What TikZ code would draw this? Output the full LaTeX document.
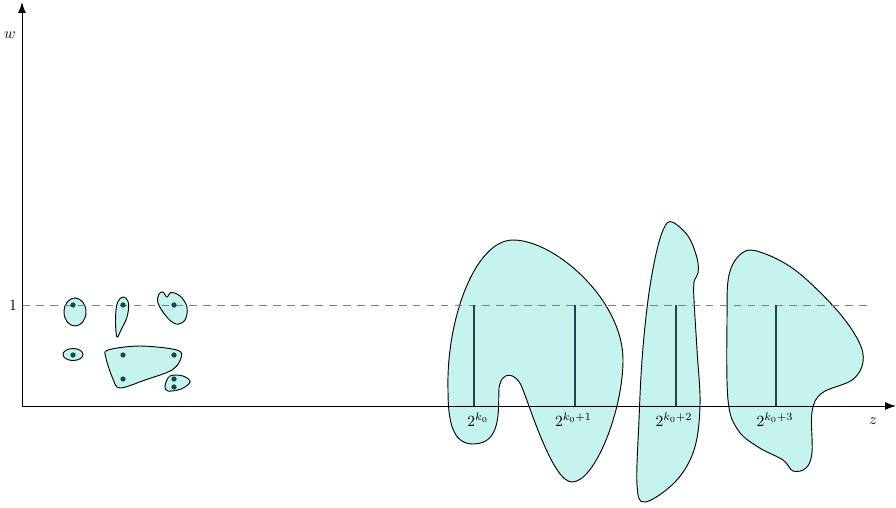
\documentclass[tikz,border=0pt]{standalone}
\usetikzlibrary{arrows.meta}
\definecolor{blobfill}{RGB}{197,244,239}
\definecolor{darkteal}{RGB}{24,72,72}
\tikzset{
  blob/.style={draw=black, line width=0.6pt, fill=blobfill},
  axis/.style={line width=0.6pt, -{Latex[length=7pt,width=5pt]}},
  guide/.style={gray, dashed, dash pattern=on 5pt off 4pt, line width=0.6pt},
  stem/.style={darkteal, line width=0.9pt},
  dot/.style={circle, fill=darkteal, inner sep=0pt, minimum size=3.4pt},
  lbl/.style={inner sep=1pt}
}
\begin{document}
\begin{tikzpicture}[x=0.645pt,y=-0.645pt]
\useasboundingbox (0,0) rectangle (896,507);
% big blobs
\path[blob] (448,390) .. controls (446,320) and (475,240) .. (513,240)
  .. controls (555,240) and (623,300) .. (623,360)
  .. controls (623,410) and (595,482) .. (572,482)
  .. controls (552,482) and (528,400) .. (521,385)
  .. controls (516,374) and (502,369) .. (499,388)
  .. controls (498,410) and (502,444) .. (473,444)
  .. controls (452,444) and (448,420) .. (448,390) -- cycle;
\path[blob] plot[smooth cycle, tension=0.6] coordinates {
 (672,222) (688,236) (697,258) (698,273) (694,282) (694,300) (697,350) (700,405) (694,450) (675,482) (645,502) (637,485) (639,420) (642,360) (648,300) (656,254) (664,228)};
\path[blob] plot[smooth cycle, tension=0.6] coordinates {
 (727,320) (729,275) (742,253) (760,252) (795,270) (835,308) (858,340) (863,362) (852,380) (822,393) (812,412) (812,452) (806,468) (793,471) (783,460) (758,447) (738,430) (728,400)};
% small blobs
\path[blob] (75,312) ellipse [x radius=11, y radius=14];
\path[blob] (73,354.5) ellipse [x radius=10, y radius=6];
\path[blob] plot[smooth cycle, tension=0.6] coordinates {
 (123,297) (128.5,303) (127,317) (121,330) (117,337) (115.5,322) (117,304)};
\path[blob] plot[smooth cycle, tension=0.6] coordinates {
 (159,294) (163,292) (167,297) (171,292.5) (180,296) (187,307) (185,320) (176,324) (166,316) (158,303)};
\path[blob] plot[smooth cycle, tension=0.55] coordinates {
 (108,350) (140,346) (177,350) (181,358) (172,370) (145,380) (120,388) (113,379) (106,358)};
\path[blob] plot[smooth cycle, tension=0.6] coordinates {
 (165,386) (170,376) (183,376) (190,382) (181,389) (168,391)};
% axes
\coordinate (O) at (22,406);
\coordinate (ytop) at (22,2);
\coordinate (xend) at (896,406);
\coordinate (one) at (22,305);
\coordinate (dashend) at (870,305);
\draw[guide] (one) -- (dashend);
\draw[axis] (O) -- (ytop);
\draw[axis] (O) -- (xend);
\node[lbl] (wl) at (10,35) {$w$};
\node[lbl] (onel) at (13,305) {$1$};
\node[lbl] (zl) at (873,421) {$z$};
% stems
\foreach \x/\n in {474/a,575/b,676/c,776/d}{
  \coordinate (\n top) at (\x,305);
  \coordinate (\n bot) at (\x,406);
  \draw[stem] (\n top) -- (\n bot);
}
\node[lbl] (la) at (478,420) {$2^{k_0}$};
\node[lbl] (lb) at (573.5,420) {$2^{k_0+1}$};
\node[lbl] (lc) at (674,420) {$2^{k_0+2}$};
\node[lbl] (ld) at (775,420) {$2^{k_0+3}$};
% dots
\foreach \p/\n in {{(73,305)}/d1,{(123,305)}/d2,{(174,305)}/d3,{(73,355)}/d4,{(123,355)}/d5,{(174,355)}/d6,{(123,379)}/d7,{(174,379)}/d8,{(174,387)}/d9}{
  \node[dot] (\n) at \p {};
}
\end{tikzpicture}
\end{document}
